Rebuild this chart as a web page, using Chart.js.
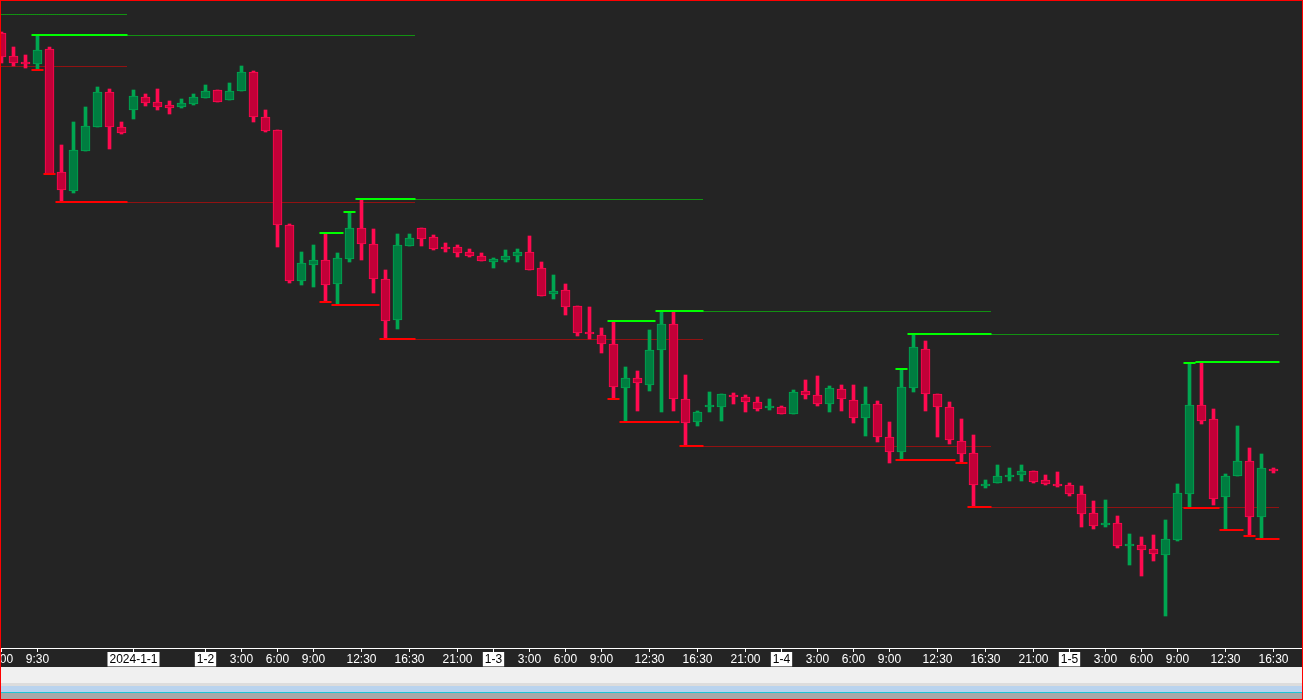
<!DOCTYPE html>
<html lang="zh">
<head>
    <meta charset="UTF-8">
    <title>K线图</title>
    <script src="https://cdn.jsdelivr.net/npm/chart.js"></script>
    <style>
        html, body { margin: 0; padding: 0; background: #242424; }
        #wrap { position: relative; width: 1303px; height: 700px; overflow: hidden; background: #242424; }
        #chartBox { position: absolute; left: 0; top: 0; width: 1303px; height: 667px; }
        .band { position: absolute; left: 0; width: 1303px; }
        #frame { position: absolute; left: 0; top: 0; width: 1303px; height: 700px; box-sizing: border-box; border: 1px solid #ff0000; pointer-events: none; }
    </style>
</head>
<body>
<div id="wrap">
    <div id="chartBox"><canvas id="kChart"></canvas></div>
    <div class="band" style="top:667px;height:16px;background:#f0f0f0"></div>
    <div class="band" style="top:683px;height:3px;background:#dcdcdc"></div>
    <div class="band" style="top:686px;height:6px;background:#b9d3ee"></div>
    <div class="band" style="top:692px;height:1px;background:#1cc6d6"></div>
    <div class="band" style="top:693px;height:7px;background:#a8a8a8"></div>
    <div id="frame"></div>
</div>

<script>
// 每根K线: 开 高 低 收
const opens = [
    2076.7, 2074.4, 2073.8, 2073.6, 2075.1, 2062.8, 2060.9, 2064.9, 2067.3, 2070.8,
    2067.3, 2069.0, 2070.3, 2069.8, 2069.5, 2069.3, 2069.6, 2070.2, 2071.0, 2070.0,
    2070.9, 2072.8, 2068.3, 2067.0, 2057.5, 2051.9, 2053.5, 2054.0, 2051.6, 2054.1,
    2057.2, 2055.6, 2052.1, 2048.0, 2055.4, 2057.2, 2056.3, 2055.3, 2055.3, 2054.8,
    2054.4, 2053.8, 2054.0, 2054.4, 2054.8, 2053.2, 2050.6, 2051.0, 2049.4, 2046.8,
    2046.5, 2045.6, 2041.2, 2042.2, 2041.5, 2045.0, 2047.6, 2040.1, 2037.8, 2039.3,
    2039.3, 2040.5, 2040.3, 2039.8, 2039.2, 2039.3, 2038.6, 2040.9, 2040.5, 2039.6,
    2041.1, 2040.0, 2038.2, 2039.6, 2036.3, 2034.8, 2041.2, 2045.1, 2040.6, 2039.3,
    2035.9, 2034.7, 2031.4, 2031.7, 2032.3, 2032.5, 2032.9, 2032.0, 2031.6, 2031.5,
    2030.6, 2028.7, 2027.5, 2027.7, 2025.4, 2025.5, 2025.1, 2024.5, 2026.0, 2030.6,
    2039.5, 2038.1, 2030.3, 2032.4, 2033.9, 2028.3, 2033.1
];
const highs = [
    2076.8, 2075.3, 2074.5, 2076.5, 2075.3, 2065.5, 2067.8, 2069.3, 2071.3, 2071.1,
    2067.8, 2071.0, 2070.6, 2071.1, 2069.9, 2070.1, 2070.6, 2071.5, 2071.0, 2071.7,
    2073.4, 2072.9, 2069.0, 2067.0, 2057.6, 2054.8, 2055.5, 2056.7, 2054.7, 2058.8,
    2060.1, 2057.1, 2053.0, 2056.6, 2056.6, 2057.2, 2056.5, 2055.7, 2055.5, 2055.1,
    2054.7, 2054.2, 2055.0, 2055.1, 2056.4, 2053.8, 2052.5, 2051.6, 2049.4, 2049.3,
    2047.2, 2047.9, 2043.3, 2042.9, 2047.0, 2048.9, 2048.8, 2042.5, 2038.9, 2040.8,
    2040.6, 2040.7, 2040.5, 2040.3, 2040.1, 2039.4, 2041.0, 2042.0, 2042.4, 2041.4,
    2041.5, 2041.5, 2041.3, 2039.9, 2037.8, 2043.1, 2046.6, 2045.9, 2040.6, 2039.8,
    2038.1, 2036.5, 2032.0, 2033.5, 2033.2, 2033.5, 2032.9, 2032.5, 2032.8, 2031.7,
    2031.4, 2029.9, 2030.0, 2028.4, 2026.6, 2026.3, 2026.5, 2028.0, 2031.6, 2043.7,
    2043.8, 2039.1, 2032.6, 2037.4, 2035.2, 2034.6, 2033.2
];
const lows = [
    2073.7, 2073.4, 2073.2, 2073.0, 2062.6, 2059.8, 2060.7, 2064.9, 2067.3, 2065.1,
    2066.6, 2068.1, 2069.4, 2069.0, 2068.6, 2069.2, 2069.5, 2070.2, 2069.8, 2070.0,
    2070.9, 2067.8, 2066.8, 2055.3, 2051.7, 2051.5, 2051.3, 2049.8, 2049.5, 2053.8,
    2054.0, 2050.7, 2046.1, 2047.1, 2055.4, 2055.4, 2055.0, 2054.8, 2054.3, 2054.3,
    2053.9, 2053.2, 2053.8, 2053.8, 2053.0, 2050.4, 2050.1, 2048.5, 2046.4, 2046.1,
    2044.7, 2040.1, 2037.8, 2038.9, 2040.9, 2038.8, 2038.9, 2035.4, 2037.4, 2038.8,
    2037.9, 2039.6, 2038.8, 2038.9, 2039.0, 2038.6, 2038.6, 2040.1, 2039.4, 2038.8,
    2038.9, 2037.7, 2036.4, 2035.8, 2033.7, 2034.0, 2040.8, 2038.9, 2036.3, 2035.6,
    2033.7, 2029.3, 2031.2, 2031.7, 2031.9, 2031.9, 2031.7, 2031.5, 2031.3, 2030.4,
    2027.3, 2027.1, 2027.3, 2025.2, 2023.5, 2022.4, 2023.9, 2018.4, 2025.9, 2029.2,
    2037.6, 2029.5, 2027.0, 2032.4, 2026.4, 2026.1, 2032.7
];
const closes = [
    2074.3, 2073.7, 2073.6, 2075.0, 2062.6, 2061.0, 2065.0, 2067.4, 2070.8, 2067.3,
    2066.7, 2070.4, 2069.7, 2069.3, 2069.2, 2069.7, 2070.3, 2070.9, 2069.8, 2070.9,
    2072.8, 2068.3, 2066.9, 2057.5, 2051.9, 2053.7, 2054.0, 2051.5, 2054.2, 2057.2,
    2055.6, 2052.1, 2047.9, 2055.5, 2056.2, 2056.1, 2055.1, 2055.1, 2054.7, 2054.4,
    2053.9, 2054.1, 2054.4, 2054.8, 2053.0, 2050.4, 2050.9, 2049.3, 2046.7, 2046.6,
    2045.6, 2041.3, 2042.2, 2041.7, 2045.0, 2047.6, 2040.1, 2037.7, 2038.8, 2039.5,
    2040.6, 2040.3, 2039.8, 2039.1, 2039.4, 2038.6, 2040.8, 2040.5, 2039.6, 2041.2,
    2040.1, 2038.2, 2039.6, 2036.3, 2034.8, 2041.3, 2045.3, 2040.6, 2039.3, 2036.0,
    2034.6, 2031.5, 2031.6, 2032.4, 2032.5, 2032.9, 2031.8, 2031.6, 2031.4, 2030.6,
    2028.6, 2027.4, 2027.7, 2025.4, 2025.6, 2025.0, 2024.6, 2026.1, 2030.7, 2039.5,
    2037.9, 2030.1, 2032.4, 2033.9, 2028.3, 2033.2, 2032.9
];

// 时间轴刻度 (K线序号 -> 文字)
const tickIdx = [0, 3, 11, 17, 20, 23, 26, 30, 34, 38, 41, 44, 47, 50, 54, 58, 62, 65, 68, 71, 74, 78, 82, 86, 89, 92, 95, 98, 102, 106];
const tickText = ['6:00', '9:30', '2024-1-1', '1-2', '3:00', '6:00', '9:00', '12:30', '16:30', '21:00', '1-3', '3:00', '6:00', '9:00', '12:30', '16:30', '21:00', '1-4', '3:00', '6:00', '9:00', '12:30', '16:30', '21:00', '1-5', '3:00', '6:00', '9:00', '12:30', '16:30'];
const dateText = ['2024-1-1', '1-2', '1-3', '1-4', '1-5'];

// 水平线 [起, 止, 价格]
const prevHigh = [[-1, 10.5, 2078.6], [10.5, 34.5, 2076.5], [34.5, 58.5, 2060.1], [58.5, 82.5, 2048.9], [82.5, 106.5, 2046.6]];
const prevLow = [[-1, 10.5, 2073.4], [10.5, 34.5, 2059.8], [34.5, 58.5, 2046.1], [58.5, 82.5, 2035.4], [82.5, 106.5, 2029.3]];
const dayHigh = [[2.5, 10.5, 2076.5], [26.5, 28.5, 2056.7], [28.5, 29.5, 2058.8], [29.5, 34.5, 2060.1],
    [50.5, 54.5, 2047.9], [54.5, 58.5, 2048.9], [74.5, 75.5, 2043.1], [75.5, 82.5, 2046.6],
    [98.5, 99.5, 2043.7], [99.5, 106.5, 2043.8]];
const dayLow = [[2.5, 3.5, 2073.0], [3.5, 4.5, 2062.6], [4.5, 10.5, 2059.8],
    [26.5, 27.5, 2049.8], [27.5, 31.5, 2049.5], [31.5, 34.5, 2046.1],
    [50.5, 51.5, 2040.1], [51.5, 56.5, 2037.8], [56.5, 58.5, 2035.4],
    [74.5, 79.5, 2034.0], [79.5, 80.5, 2033.7], [80.5, 82.5, 2029.3],
    [98.5, 101.5, 2029.2], [101.5, 103.5, 2027.0], [103.5, 104.5, 2026.4], [104.5, 106.5, 2026.1]];

const UP_BODY = '#007d40', UP_LINE = '#00a651';
const DN_BODY = '#c20038', DN_LINE = '#ff0a50';

const isUp = opens.map((o, i) => closes[i] > o);
const bodyData = opens.map((o, i) => ({ x: i, y: [o, closes[i]] }));
const wickData = opens.map((o, i) => ({ x: i, y: [lows[i], highs[i]] }));

function segs(list) {
    const pts = [];
    list.forEach(([a, b, v]) => { pts.push({ x: a, y: v }, { x: b, y: v }, { x: b, y: null }); });
    return pts;
}

// 点线移半个像素, 画得清楚一点
const halfPx = {
    id: 'halfPx',
    beforeDatasetDraw(chart, args) {
        chart.ctx.save();
        if (chart.data.datasets[args.index].borderDash) chart.ctx.translate(0, 0.5);
    },
    afterDatasetDraw(chart) { chart.ctx.restore(); }
};

Chart.defaults.font.family = "'Liberation Sans', Arial, sans-serif";
Chart.defaults.font.size = 12;

const lineBase = { type: 'line', pointRadius: 0, pointHoverRadius: 0, fill: false, tension: 0 };

new Chart(document.getElementById('kChart'), {
    type: 'bar',
    data: {
        datasets: [
            { ...lineBase, label: 'dayHigh', data: segs(dayHigh), borderColor: '#00ff00', borderWidth: 2, order: 0 },
            { ...lineBase, label: 'dayLow', data: segs(dayLow), borderColor: '#ff0000', borderWidth: 2, order: 0 },
            {
                label: 'body', data: bodyData,
                backgroundColor: isUp.map(u => u ? UP_BODY : DN_BODY),
                borderColor: isUp.map(u => u ? UP_LINE : DN_LINE),
                borderWidth: 1, borderSkipped: false, barThickness: 9, grouped: false, order: 1
            },
            {
                label: 'wick', data: wickData,
                backgroundColor: isUp.map(u => u ? UP_LINE : DN_LINE),
                borderWidth: 0, barThickness: 3, grouped: false, order: 2
            },
            { ...lineBase, label: 'prevHigh', data: segs(prevHigh), borderColor: '#00ff00', borderWidth: 1, borderDash: [1, 1], order: 3 },
            { ...lineBase, label: 'prevLow', data: segs(prevLow), borderColor: '#ff0000', borderWidth: 1, borderDash: [1, 1], order: 3 }
        ]
    },
    options: {
        responsive: true,
        maintainAspectRatio: false,
        animation: false,
        layout: { padding: 0 },
        plugins: { legend: { display: false }, tooltip: { enabled: false } },
        scales: {
            x: {
                type: 'linear', bounds: 'data', offset: false,
                min: -0.125, max: 108.4583,
                afterBuildTicks: s => { s.ticks = tickIdx.map(v => ({ value: v })); },
                afterFit: s => { s.height = 19; s.paddingLeft = 0; s.paddingRight = 0; },
                grid: { offset: false, drawOnChartArea: false, drawTicks: true, tickLength: 4, color: '#ffffff' },
                border: { display: true, color: '#ffffff', width: 1 },
                ticks: {
                    autoSkip: false, maxRotation: 0, minRotation: 0, padding: 0,
                    callback: (v, i) => tickText[i],
                    color: c => dateText.includes(tickText[c.index]) ? '#000000' : '#ffffff',
                    showLabelBackdrop: c => dateText.includes(tickText[c.index]),
                    backdropColor: '#ffffff',
                    backdropPadding: { x: 2, y: 0 }
                }
            },
            y: { display: false, bounds: 'data', min: 2015.2, max: 2080 }
        }
    },
    plugins: [halfPx]
});
</script>
</body>
</html>
